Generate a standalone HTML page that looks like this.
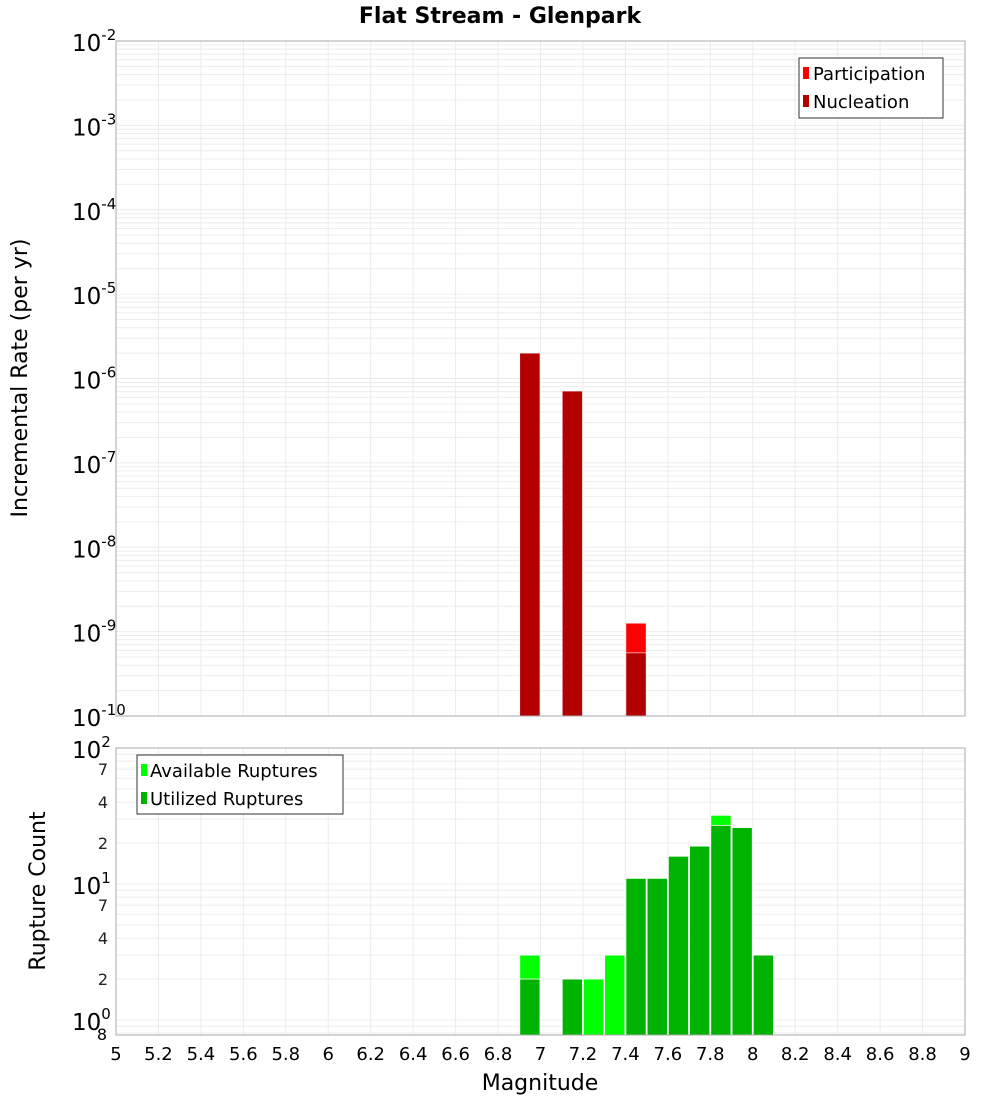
<!DOCTYPE html>
<html><head><meta charset="utf-8"><style>
body{margin:0;background:#fff}
svg{display:block;font-family:"DejaVu Sans","Liberation Sans",sans-serif}
</style></head><body>
<svg id="c" width="1000" height="1100" viewBox="0 0 1000 1100" xmlns="http://www.w3.org/2000/svg">
<text x="500" y="23" text-anchor="middle" font-size="22" font-weight="bold">Flat Stream - Glenpark</text>
<g id="topG"></g>
<g id="botG"></g>
<text transform="translate(27,378) rotate(-90)" text-anchor="middle" font-size="22">Incremental Rate (per yr)</text>
<text transform="translate(45,891) rotate(-90)" text-anchor="middle" font-size="22">Rupture Count</text>
<text x="540" y="1090" text-anchor="middle" font-size="22">Magnitude</text>
</svg>
<script>
const mags=[6.95,7.15,7.45];
const participation=[2.0e-6,7.1e-7,1.26e-9];
const nucleation=[2.0e-6,7.1e-7,5.6e-10];
const cMags=[6.95,7.15,7.25,7.35,7.45,7.55,7.65,7.75,7.85,7.95,8.05];
const available=[3,2,2,3,11,11,16,19,32,26,3];
const utilized=[2,2,0,0,11,11,16,19,27,26,3];
const xTicks=[5,5.2,5.4,5.6,5.8,6,6.2,6.4,6.6,6.8,7,7.2,7.4,7.6,7.8,8,8.2,8.4,8.6,8.8,9];
const topExp=[-2,-3,-4,-5,-6,-7,-8,-9,-10];
const botExp=[2,1,0];

const NS="http://www.w3.org/2000/svg";
const L=116,R=965;
const X=m=>L+(m-5)*(R-L)/4;
const T0=41,T1=716,yT=v=>T0+(-2-Math.log10(v))*(T1-T0)/8;
const B0=748,BD=136,B1=1035,yB=v=>B0+(2-Math.log10(v))*BD;
function el(p,t,a){const e=document.createElementNS(NS,t);for(const k in a)e.setAttribute(k,a[k]);p.appendChild(e);return e;}
const topG=document.getElementById('topG'),botG=document.getElementById('botG');

for(const m of xTicks){const g=el(topG,'line',{x1:X(m),x2:X(m),y1:T0,y2:T1,stroke:'#ebebeb'});
}
for(let e=-10;e<-2;e++)for(let k=1;k<10;k++){const y=yT(k*Math.pow(10,e));
const g=el(topG,'line',{x1:L,x2:R,y1:y,y2:y,stroke:'#ececec'});
}
for(const e of topExp){const y=yT(Math.pow(10,e));
const t=el(topG,'text',{x:72,y:y+10,'font-size':23});

t.innerHTML='10<tspan dy="-11" font-size="15">'+e+'</tspan>';}
for(let i=0;i<mags.length;i++){
const a=el(topG,'rect',{x:X(mags[i]-0.05)+0.5,y:yT(participation[i]),width:X(5.1)-X(5)-1,height:T1-yT(participation[i]),fill:'#ff0000',stroke:'#fff','stroke-width':0.6});

const b=el(topG,'rect',{x:X(mags[i]-0.05)+0.5,y:yT(nucleation[i]),width:X(5.1)-X(5)-1,height:T1-yT(nucleation[i]),fill:'#b30000',stroke:'#fff','stroke-width':0.6});
}
const f1=el(topG,'rect',{x:L,y:T0,width:R-L,height:T1-T0,fill:'none',stroke:'#aaa'});

const lg=el(topG,'g',{});
el(lg,'rect',{x:799,y:58,width:144,height:60,fill:'#fff',stroke:'#333'});
el(lg,'rect',{x:803,y:67,width:6,height:12,fill:'#ff0000'});
el(lg,'rect',{x:803,y:95,width:6,height:12,fill:'#b30000'});
let t=el(lg,'text',{x:813,y:80,'font-size':18});t.textContent='Participation';

t=el(lg,'text',{x:813,y:108,'font-size':18});t.textContent='Nucleation';


for(const m of xTicks){const g=el(botG,'line',{x1:X(m),x2:X(m),y1:B0,y2:B1,stroke:'#ebebeb'});
}
for(let e=-1;e<2;e++)for(let k=1;k<10;k++){const y=yB(k*Math.pow(10,e));if(y>B1||y<B0)continue;
const g=el(botG,'line',{x1:L,x2:R,y1:y,y2:y,stroke:'#ececec'});
}
for(const e of botExp){const y=yB(Math.pow(10,e));
const tt=el(botG,'text',{x:72,y:y+10,'font-size':23});

tt.innerHTML='10<tspan dy="-11" font-size="15">'+e+'</tspan>';}
for(const e of [0,1])for(const k of [2,4,7]){const y=yB(k*Math.pow(10,e));
const tt=el(botG,'text',{x:103,y:y+6,'font-size':16,'text-anchor':'middle',fill:'#222'});tt.textContent=k;
}
t=el(botG,'text',{x:102,y:1040,'font-size':16,'text-anchor':'middle'});t.textContent='8';

for(let i=0;i<cMags.length;i++){
const w=X(5.1)-X(5)-1,x=X(cMags[i]-0.05)+0.5;
if(available[i]>0){const a=el(botG,'rect',{x:x,y:yB(available[i]),width:w,height:B1-yB(available[i]),fill:'#00ff00',stroke:'#fff','stroke-width':0.8});
}
if(utilized[i]>0){const b=el(botG,'rect',{x:x,y:yB(utilized[i]),width:w,height:B1-yB(utilized[i]),fill:'#00b300',stroke:'#fff','stroke-width':0.8});
}}
const f2=el(botG,'rect',{x:L,y:B0,width:R-L,height:B1-B0,fill:'none',stroke:'#aaa'});

for(const m of xTicks){const tt=el(botG,'text',{x:X(m),y:1060,'font-size':18,'text-anchor':'middle'});tt.textContent=String(m);
}
const lb=el(botG,'g',{});
el(lb,'rect',{x:137,y:755,width:206,height:59,fill:'#fff',stroke:'#333'});
el(lb,'rect',{x:141,y:764,width:6,height:12,fill:'#00ff00'});
el(lb,'rect',{x:141,y:792,width:6,height:12,fill:'#00b300'});
t=el(lb,'text',{x:150,y:777,'font-size':18});t.textContent='Available Ruptures';

t=el(lb,'text',{x:150,y:805,'font-size':18});t.textContent='Utilized Ruptures';

</script>
</body></html>
